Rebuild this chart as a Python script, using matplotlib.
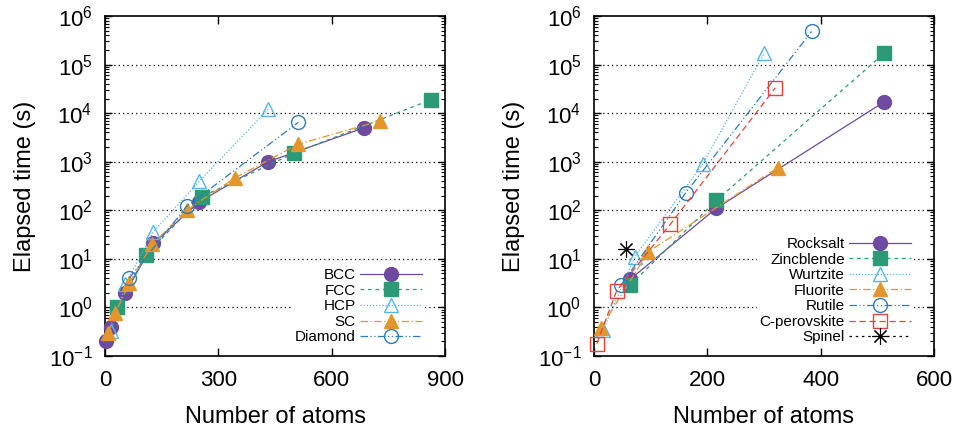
import matplotlib
matplotlib.use("Agg")
import matplotlib.pyplot as plt
from matplotlib.ticker import LogLocator, NullFormatter, FixedLocator

plt.rcParams['font.family'] = ['Liberation Sans', 'DejaVu Sans']
plt.rcParams['mathtext.default'] = 'regular'

# left panel: metals
bcc_n = [2, 16, 54, 128, 250, 432, 686]
bcc_t = [0.2, 0.4, 2.0, 21, 150, 1000, 5000]
fcc_n = [32, 108, 256, 500, 864]
fcc_t = [1.0, 12, 190, 1500, 19000]
hcp_n = [16, 54, 128, 250, 432]
hcp_t = [0.33, 3.0, 36, 400, 12000]
sc_n = [8, 27, 64, 125, 216, 343, 512, 729]
sc_t = [0.3, 0.75, 3.2, 20, 100, 460, 2300, 7000]
dia_n = [64, 216, 512]
dia_t = [4.0, 120, 6500]

# right panel: compounds
rock_n = [64, 216, 512]
rock_t = [3.8, 110, 17000]
zinc_n = [64, 216, 512]
zinc_t = [2.9, 160, 170000]
wurtz_n = [16, 72, 192, 300]
wurtz_t = [0.34, 11, 900, 170000]
fluor_n = [12, 96, 324]
fluor_t = [0.38, 14, 750]
rutile_n = [48, 162, 384]
rutile_t = [2.9, 230, 480000]
perov_n = [5, 40, 135, 320]
perov_t = [0.18, 2.2, 52, 33000]
spinel_n = [56]
spinel_t = [16]

PURPLE = '#6e4aa0'
GREEN = '#2a9a77'
LBLUE = '#56b4e9'
ORANGE = '#e3962b'
BLUE = '#2d7bbf'
RED = '#e8403a'

SOLID = '-'
SHORTDASH = (0, (3, 3))
DOT = (0, (1, 1.5))
DASHDOT = (0, (6, 2, 1, 2))
DASHDOTDOT = (0, (6, 2, 1, 2, 1, 2))
DASH = (0, (5, 3))


def series(ax, n, t, label, color, ls, marker, filled, ms=10, mew=1.0):
    ax.plot(n, t, color=color, ls=ls, lw=0.9, marker=marker, ms=ms,
            mfc=color if filled else 'none', mec=color, mew=mew,
            label=label, clip_on=False, zorder=3)


def style(ax, xmax, xstep):
    ax.set_yscale('log')
    ax.set_ylim(0.1, 1e6)
    ax.set_xlim(0, xmax)
    ax.xaxis.set_major_locator(FixedLocator(list(range(0, xmax + 1, xstep))))
    ax.yaxis.set_major_locator(LogLocator(base=10, numticks=10))
    ax.yaxis.set_minor_locator(LogLocator(base=10, subs=range(2, 10), numticks=20))
    ax.yaxis.set_minor_formatter(NullFormatter())
    ax.tick_params(which='both', direction='in', top=True, right=True, labelsize=16)
    ax.tick_params(axis='x', which='major', length=6, width=1, pad=10)
    ax.tick_params(axis='y', which='major', length=5, width=1, pad=9)
    ax.tick_params(axis='y', which='minor', length=3, width=0.8)
    for s in ax.spines.values():
        s.set_linewidth(1.2)
    for v in [1, 10, 100, 1e3, 1e4, 1e5]:
        ax.axhline(v, color='black', lw=0.9, ls=(0, (1, 2.5)), zorder=1)
    ax.set_xlabel('Number of atoms', fontsize=17, labelpad=11)
    ax.set_ylabel('Elapsed time (s)', fontsize=17, labelpad=9)


fig = plt.figure(figsize=(9.61, 4.37), dpi=100)
ax1 = fig.add_axes([0.1093, 0.1854, 0.3538, 0.7780])
ax2 = fig.add_axes([0.6181, 0.1854, 0.3538, 0.7780])

series(ax1, bcc_n, bcc_t, 'BCC', PURPLE, SOLID, 'o', True)
series(ax1, fcc_n, fcc_t, 'FCC', GREEN, SHORTDASH, 's', True, ms=9.5)
series(ax1, hcp_n, hcp_t, 'HCP', LBLUE, DOT, '^', False)
series(ax1, sc_n, sc_t, 'SC', ORANGE, DASHDOT, '^', True)
series(ax1, dia_n, dia_t, 'Diamond', BLUE, DASHDOTDOT, 'o', False)
style(ax1, 900, 300)

series(ax2, rock_n, rock_t, 'Rocksalt', PURPLE, SOLID, 'o', True)
series(ax2, zinc_n, zinc_t, 'Zincblende', GREEN, SHORTDASH, 's', True, ms=9.5)
series(ax2, wurtz_n, wurtz_t, 'Wurtzite', LBLUE, DOT, '^', False)
series(ax2, fluor_n, fluor_t, 'Fluorite', ORANGE, DASHDOT, '^', True)
series(ax2, rutile_n, rutile_t, 'Rutile', BLUE, DASHDOTDOT, 'o', False)
series(ax2, perov_n, perov_t, 'C-perovskite', RED, DASH, 's', False)
series(ax2, spinel_n, spinel_t, 'Spinel', 'black', (0, (2, 3)), (8, 2, 0), False,
       ms=12, mew=0.8)
style(ax2, 600, 200)

for ax in (ax1, ax2):
    leg = ax.legend(loc='lower right', bbox_to_anchor=(0.94, 0.025), markerfirst=False,
                    frameon=True, fancybox=False, framealpha=1, edgecolor='none',
                    fontsize=11, handlelength=4, handletextpad=0.3,
                    labelspacing=0.1, borderpad=0.2, borderaxespad=0)
    leg.set_zorder(2)

fig.savefig('out.png', dpi=100)
